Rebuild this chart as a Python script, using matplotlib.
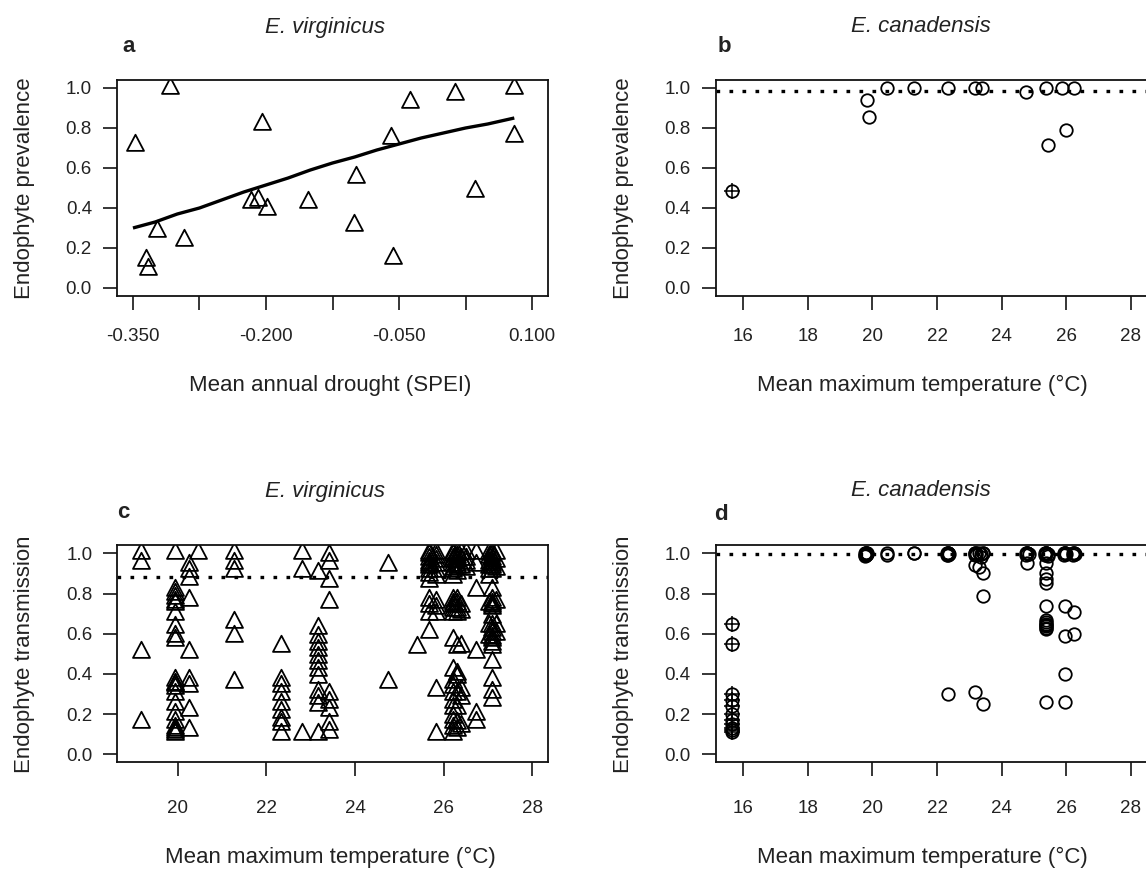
import matplotlib
matplotlib.use("Agg")
import matplotlib.pyplot as plt
from matplotlib.path import Path

plt.rcParams['font.family'] = ['Liberation Sans', 'DejaVu Sans']

# ---------------- data ----------------
# panel a: E. virginicus prevalence vs drought
a_spei = [-0.348, -0.308, -0.205, -0.038, 0.013, 0.080, 0.080, -0.059, -0.098, 0.036,
          -0.153, -0.217, -0.209, -0.199, -0.101, -0.323, -0.293, -0.335, -0.333, -0.057]
a_prev = [0.715, 1.00, 0.82, 0.93, 0.97, 1.00, 0.76, 0.75, 0.556, 0.485,
          0.43, 0.43, 0.44, 0.395, 0.315, 0.287, 0.24, 0.14, 0.093, 0.148]
a_fit_spei = [-0.35, -0.325, -0.30, -0.275, -0.25, -0.225, -0.20, -0.175, -0.15,
              -0.125, -0.10, -0.075, -0.05, -0.025, 0.0, 0.025, 0.05, 0.08]
a_fit_prev = [0.30, 0.33, 0.37, 0.40, 0.44, 0.48, 0.515, 0.55, 0.59,
              0.625, 0.655, 0.69, 0.72, 0.75, 0.775, 0.80, 0.82, 0.85]

# panel b: E. canadensis prevalence vs temperature
b_temp = [19.84, 19.88, 20.46, 21.28, 22.35, 23.17, 23.40, 24.75, 25.39, 25.88, 26.24, 25.44, 25.98]
b_prev = [0.94, 0.857, 1.00, 1.00, 1.00, 1.00, 1.00, 0.98, 1.00, 1.00, 1.00, 0.713, 0.788]
b_cross_temp = [15.64]
b_cross_prev = [0.485]
b_mean = 0.983

# panel c: E. virginicus transmission vs temperature (grouped by population)
c_pop_temp = [19.17, 19.94, 20.25, 20.46, 21.27, 22.34, 22.80, 23.16, 23.41, 24.75,
              25.41, 25.68, 25.83, 26.20, 26.31, 26.40, 26.50, 26.73, 27.03, 27.10, 27.17]
c_pop_trans = [
    [1.0, 0.95, 0.51, 0.16],
    [1.0, 0.82, 0.80, 0.78, 0.76, 0.75, 0.70, 0.635, 0.59, 0.57, 0.37, 0.35, 0.345, 0.33,
     0.30, 0.25, 0.20, 0.16, 0.13, 0.12, 0.11, 0.10],
    [0.94, 0.91, 0.87, 0.77, 0.51, 0.37, 0.34, 0.22, 0.12],
    [1.0],
    [1.0, 0.95, 0.91, 0.66, 0.59, 0.36],
    [0.54, 0.37, 0.34, 0.30, 0.25, 0.21, 0.17, 0.15, 0.10],
    [1.0, 0.91, 0.10],
    [0.90, 0.63, 0.585, 0.55, 0.52, 0.486, 0.453, 0.42, 0.386, 0.31, 0.28, 0.245, 0.10],
    [0.99, 0.95, 0.86, 0.76, 0.30, 0.26, 0.22, 0.15, 0.11],
    [0.94, 0.36],
    [0.535],
    [1.0, 0.99, 0.97, 0.95, 0.94, 0.93, 0.91, 0.89, 0.86, 0.77, 0.74, 0.70, 0.61],
    [1.0, 0.98, 0.96, 0.94, 0.91, 0.88, 0.76, 0.73, 0.70, 0.32, 0.10],
    [1.0, 0.99, 0.97, 0.96, 0.94, 0.92, 0.91, 0.88, 0.77, 0.75, 0.74, 0.72, 0.70, 0.57,
     0.42, 0.36, 0.336, 0.30, 0.26, 0.23, 0.187, 0.16, 0.13, 0.10],
    [1.0, 0.98, 0.96, 0.94, 0.93, 0.90, 0.77, 0.75, 0.72, 0.70, 0.535, 0.40, 0.386, 0.30,
     0.23, 0.154, 0.12],
    [1.0, 0.97, 0.93, 0.74, 0.71, 0.54, 0.32, 0.28, 0.14],
    [1.0, 0.97, 0.95, 0.92],
    [1.0, 0.94, 0.82, 0.51, 0.20, 0.16],
    [1.0, 0.98, 0.95, 0.93, 0.91, 0.88, 0.75, 0.64, 0.585],
    [1.0, 0.99, 0.97, 0.95, 0.94, 0.93, 0.91, 0.82, 0.77, 0.75, 0.74, 0.73, 0.685, 0.64,
     0.62, 0.60, 0.58, 0.57, 0.55, 0.535, 0.46, 0.37, 0.31, 0.27],
    [1.0, 0.96, 0.92, 0.76, 0.64, 0.60],
]
c_mean = 0.884

# panel d: E. canadensis transmission vs temperature
d_pop_temp = [19.76, 19.80, 19.84, 20.46, 21.28, 22.32, 22.35, 22.38, 23.17, 23.22, 23.30,
              23.36, 23.42, 24.76, 24.80, 24.84, 25.35, 25.39, 25.43, 25.92, 25.96, 26.00,
              26.20, 26.24, 26.28]
d_pop_trans = [
    [1.0, 0.99, 0.985],
    [1.0, 1.0, 1.0, 0.99, 0.99],
    [1.0, 0.995],
    [1.0, 0.99],
    [1.0, 1.0],
    [1.0, 0.99],
    [1.0, 1.0, 1.0, 0.99, 0.30],
    [0.995],
    [1.0, 1.0, 0.99, 0.94, 0.31],
    [1.0, 0.99],
    [1.0, 0.93],
    [0.995, 0.98],
    [1.0, 1.0, 0.90, 0.79, 0.25],
    [1.0, 0.99],
    [1.0, 1.0, 1.0, 0.95],
    [0.995],
    [1.0, 0.99],
    [1.0, 1.0, 1.0, 1.0, 0.95, 0.90, 0.87, 0.85, 0.74, 0.67, 0.66, 0.65, 0.645, 0.64,
     0.63, 0.625, 0.26],
    [0.995, 0.985],
    [1.0, 0.99],
    [1.0, 1.0, 1.0, 0.74, 0.59, 0.40, 0.26],
    [0.995],
    [1.0, 0.99],
    [1.0, 1.0, 0.71, 0.60],
    [0.995],
]
d_cross_temp = 15.64
d_cross_trans = [0.65, 0.55, 0.30, 0.27, 0.24, 0.20, 0.17, 0.15, 0.13, 0.12, 0.11]
d_mean = 0.998

y_ticks = [0.0, 0.2, 0.4, 0.6, 0.8, 1.0]
a_xticks = [-0.35, -0.275, -0.20, -0.125, -0.05, 0.025, 0.10]
a_xticklabels = ["-0.350", "", "-0.200", "", "-0.050", "", "0.100"]
temp_ticks_c = [20, 22, 24, 26, 28]
temp_ticks_bd = [16, 18, 20, 22, 24, 26, 28]

# ---------------- figure ----------------
W, H = 1146, 872
fig = plt.figure(figsize=(W / 100, H / 100), dpi=100)


def ax_px(left, top, width, height):
    return fig.add_axes([left / W, 1 - (top + height) / H, width / W, height / H])


tri = Path([(0, 1.267), (-1, -0.633), (1, -0.633), (0, 1.267)],
           [Path.MOVETO, Path.LINETO, Path.LINETO, Path.CLOSEPOLY])

TICK_FS = 13.5
LAB_FS = 16
dots = (0, (1.1, 2.8))


def style(ax, xlim, xticks, xticklabels=None, xpad=14):
    ax.set_xlim(*xlim)
    ax.set_ylim(-0.04, 1.04)
    ax.set_yticks(y_ticks)
    ax.set_yticklabels([f"{v:.1f}" for v in y_ticks])
    ax.set_xticks(xticks)
    if xticklabels is not None:
        ax.set_xticklabels(xticklabels)
    else:
        ax.set_xticklabels([str(t) for t in xticks])
    ax.tick_params(axis='both', length=10, width=1.1, color='black',
                   labelsize=TICK_FS, labelcolor='#222222')
    ax.tick_params(axis='x', pad=xpad)
    ax.tick_params(axis='y', pad=8)
    for s in ax.spines.values():
        s.set_linewidth(1.3)
        s.set_color('#111111')


mk_tri = dict(linestyle='none', marker=tri, markersize=15.5, markerfacecolor='none',
              markeredgecolor='black', markeredgewidth=1.3)
mk_circ = dict(linestyle='none', marker='o', markersize=9, markerfacecolor='none',
               markeredgecolor='black', markeredgewidth=1.3)
mk_plus = dict(linestyle='none', marker='+', markersize=11, markeredgecolor='black',
               markeredgewidth=1.1)

# panel a
axa = ax_px(117, 80, 431, 216)
axa.plot(a_spei, a_prev, **mk_tri)
axa.plot(a_fit_spei, a_fit_prev, color='black', lw=2.4, solid_capstyle='butt',
         solid_joinstyle='round')
style(axa, (-0.368, 0.118), a_xticks, a_xticklabels, xpad=13)

# panel b
axb = ax_px(715.7, 80, 431, 216)
axb.axhline(b_mean, color='black', lw=2.4, linestyle=dots)
axb.plot(b_temp, b_prev, **mk_circ)
axb.plot(b_cross_temp, b_cross_prev, **mk_circ)
axb.plot(b_cross_temp, b_cross_prev, **mk_plus)
style(axb, (15.146, 28.494), temp_ticks_bd, xpad=13)

# panel c
axc = ax_px(117.3, 545.3, 431, 217)
axc.axhline(c_mean, color='black', lw=2.4, linestyle=dots)
for t, ys in zip(c_pop_temp, c_pop_trans):
    axc.plot([t] * len(ys), ys, **mk_tri)
style(axc, (18.64, 28.36), temp_ticks_c, xpad=17)

# panel d
axd = ax_px(715.7, 545.3, 431, 217)
axd.axhline(d_mean, color='black', lw=2.4, linestyle=dots)
for t, ys in zip(d_pop_temp, d_pop_trans):
    axd.plot([t] * len(ys), ys, **mk_circ)
axd.plot([d_cross_temp] * len(d_cross_trans), d_cross_trans, **mk_circ)
axd.plot([d_cross_temp] * len(d_cross_trans), d_cross_trans, **mk_plus)
style(axd, (15.146, 28.494), temp_ticks_bd, xpad=17)


def ftext(x, y, s, **kw):
    fig.text(x / W, 1 - y / H, s, **kw)


tcol = '#222222'
# titles
ftext(325, 27, "E. virginicus", ha='center', va='center', fontsize=LAB_FS, style='italic', color=tcol)
ftext(921, 27, "E. canadensis", ha='center', va='center', fontsize=LAB_FS, style='italic', color=tcol)
ftext(325, 492, "E. virginicus", ha='center', va='center', fontsize=LAB_FS, style='italic', color=tcol)
ftext(921, 490, "E. canadensis", ha='center', va='center', fontsize=LAB_FS, style='italic', color=tcol)
# panel letters
ftext(122, 47, "a", ha='left', va='center', fontsize=LAB_FS, fontweight='bold', color=tcol)
ftext(718, 47, "b", ha='left', va='center', fontsize=LAB_FS, fontweight='bold', color=tcol)
ftext(117, 512, "c", ha='left', va='center', fontsize=LAB_FS, fontweight='bold', color=tcol)
ftext(714, 514, "d", ha='left', va='center', fontsize=LAB_FS, fontweight='bold', color=tcol)
# y labels
ftext(25, 188, "Endophyte prevalence", ha='center', va='center', rotation=90, fontsize=LAB_FS, color=tcol)
ftext(624, 188, "Endophyte prevalence", ha='center', va='center', rotation=90, fontsize=LAB_FS, color=tcol)
ftext(25, 654, "Endophyte transmission", ha='center', va='center', rotation=90, fontsize=LAB_FS, color=tcol)
ftext(624, 654, "Endophyte transmission", ha='center', va='center', rotation=90, fontsize=LAB_FS, color=tcol)
# x labels
ftext(330, 385, "Mean annual drought (SPEI)", ha='center', va='center', fontsize=LAB_FS, color=tcol)
ftext(922, 385, "Mean maximum temperature (°C)", ha='center', va='center', fontsize=LAB_FS, color=tcol)
ftext(330, 857, "Mean maximum temperature (°C)", ha='center', va='center', fontsize=LAB_FS, color=tcol)
ftext(922, 857, "Mean maximum temperature (°C)", ha='center', va='center', fontsize=LAB_FS, color=tcol)

fig.savefig("out.png", dpi=100, facecolor='white')
